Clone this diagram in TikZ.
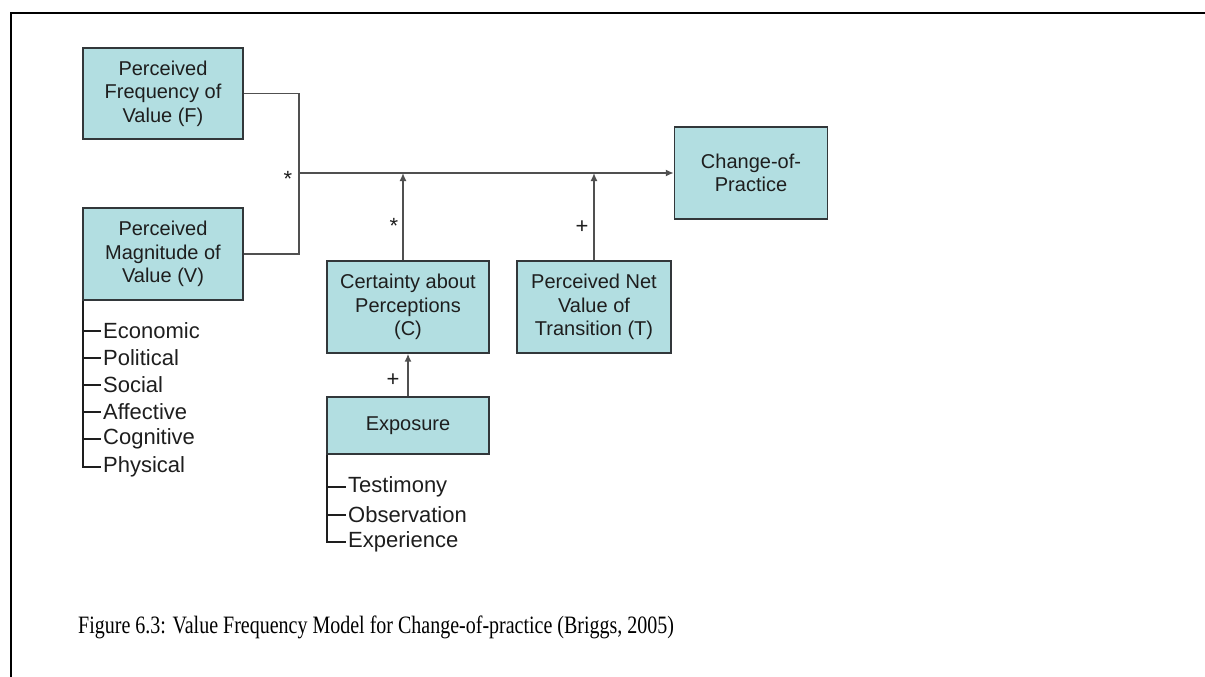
\documentclass[tikz,border=0pt]{standalone}
\usepackage{fontspec}
\setmainfont{Liberation Sans}
\newfontfamily\capfont{Liberation Serif}
\usetikzlibrary{arrows.meta}
\definecolor{boxfill}{RGB}{178,222,225}
\definecolor{boxline}{RGB}{50,55,58}
\definecolor{wire}{RGB}{80,80,80}
\definecolor{ink}{RGB}{30,30,30}
\tikzset{
  factor/.style={draw=boxline, line width=1.4pt, fill=boxfill, align=center, inner sep=0pt,
    text=ink, font=\fontsize{20}{23.5}\selectfont},
  link/.style={draw=wire, line width=1.5pt},
  flow/.style={link, -{Latex[length=8pt,width=7pt]}},
  sign/.style={text=ink, font=\fontsize{22}{22}\selectfont, inner sep=0pt},
  item/.style={anchor=west, text=ink, font=\fontsize{22}{22}\selectfont, inner sep=0pt},
  tree/.style={draw=ink, line width=1.4pt}
}
\begin{document}
\begin{tikzpicture}[x=1pt,y=-1pt]
\useasboundingbox (0,0) rectangle (1205,677);
% frame
\draw[line width=2.2pt, line cap=rect] (1205,13) -- (11,13) -- (11,677);

% factor boxes
\node[factor, minimum width=160pt, minimum height=91pt] (F) at (163,93.5) {Perceived\\Frequency of\\Value (F)};
\node[factor, minimum width=160pt, minimum height=92pt] (V) at (163,254) {Perceived\\Magnitude of\\Value (V)};
\node[factor, minimum width=153pt, minimum height=92pt] (P) at (751,173) {Change-of-\\Practice};
\node[factor, minimum width=162pt, minimum height=92pt] (C) at (408,307) {Certainty about\\Perceptions\\(C)};
\node[factor, minimum width=154pt, minimum height=92pt] (T) at (594,307) {Perceived Net\\Value of\\Transition (T)};
\node[factor, minimum width=162pt, minimum height=57pt] (E) at (408,425.5) {Exposure};

% junction points on the main line
\coordinate (J) at (299,173);
\coordinate (JC) at (403,173);
\coordinate (JT) at (594,173);

% F and V combine, then flow to change-of-practice
\draw[link] (F.east) -| (J) |- (V.east);
\draw[flow, line width=2pt] (J) -- (P.west);
\draw[flow] (C.north -| JC) -- (JC);
\draw[flow] (T.north) -- (JT);
\draw[flow] (E.north) -- (C.south);

% operator signs
\node[sign] (s1) at (288,179) {*};
\node[sign] (s2) at (394,226) {*};
\node[sign] (s3) at (582,227) {+};
\node[sign] (s4) at (393,380) {+};

% value dimensions
\draw[tree] (V.south -| 83,0) -- (83,467) -- (101,467);
\foreach \y/\t in {331/Economic,358/Political,385/Social,412/Affective,439/Cognitive,467/Physical}{
  \draw[tree] (83,\y) -- (101,\y);
  \node[item] at (103,\y) {\t};
}

% exposure kinds
\draw[tree] (E.south -| 327,0) -- (327,542) -- (346,542);
\foreach \y/\t in {487/Testimony,515/Observation,542/Experience}{
  \draw[tree] (327,\y) -- (346,\y);
  \node[item] at (348,\y) {\t};
}

% caption, set in a condensed serif
\node[anchor=west, inner sep=0pt, xscale=0.8, font=\capfont\fontsize{25}{25}\selectfont] (cap) at (78,627)
  {Figure 6.3: Value Frequency Model for Change-of-practice (Briggs, 2005)};
\end{tikzpicture}
\end{document}
